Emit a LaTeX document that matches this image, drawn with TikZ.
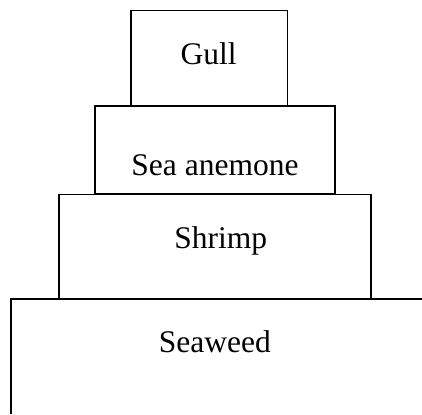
\documentclass[tikz,border=0pt]{standalone}
\usepackage{fontspec}
\setmainfont{Liberation Serif}
\begin{document}
\begin{tikzpicture}[x=1pt,y=1pt,
  box/.style={draw=black,line width=1.2pt},
  lbl/.style={inner sep=0pt,anchor=base,font=\fontsize{31.5}{36}\selectfont}]
\useasboundingbox (0,0) rectangle (422,414);
\fill[white] (0,0) rectangle (422,414);
% boxes
\draw[box] (131,308) rectangle (287.3,403.3);
\draw[box] (95,220.7) rectangle (335,308);
\draw[box] (59,115.7) rectangle (371,219.7);
\draw[box] (11,0) -- (11,115) -- (430,115);
% labels
\node[lbl] (gull) at (208.7,349) {Gull};
\node[lbl] (anemone) at (215,238.3) {Sea anemone};
\node[lbl] (shrimp) at (220.8,165.7) {Shrimp};
\node[lbl] (seaweed) at (214.8,61.3) {Seaweed};
\end{tikzpicture}
\end{document}
